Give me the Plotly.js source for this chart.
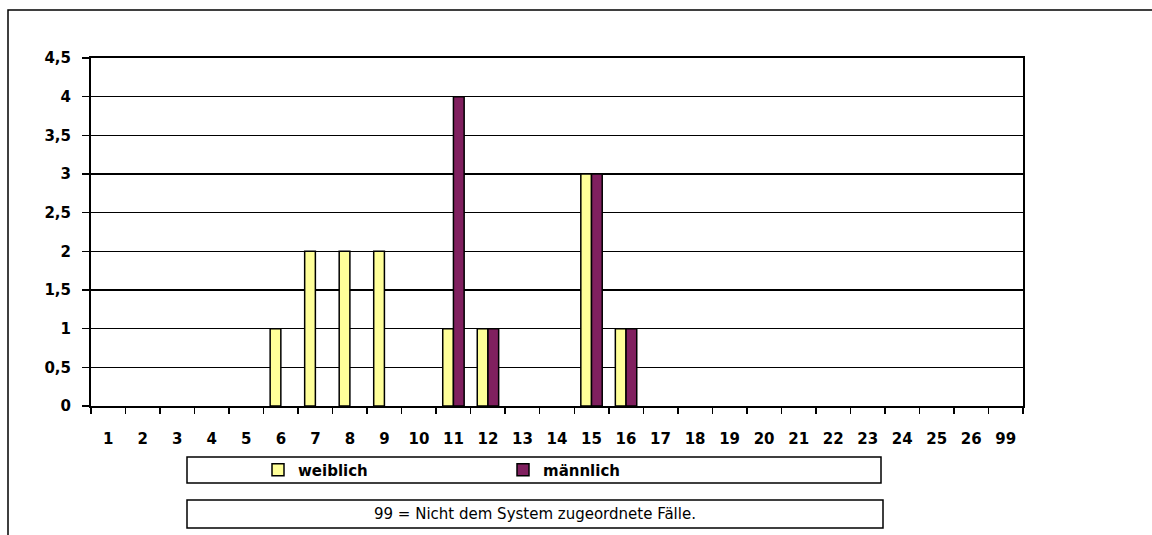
<!DOCTYPE html>
<html>
<head>
<meta charset="utf-8">
<script src="https://cdn.plot.ly/plotly-3.0.1.min.js"></script>
<style>html,body{margin:0;padding:0;background:#fff;}#chart{width:1152px;height:535px;}</style>
</head>
<body>
<div id="chart"></div>
<script>
const categories = ['1','2','3','4','5','6','7','8','9','10','11','12','13','14','15','16','17','18','19','20','21','22','23','24','25','26','99'];
const weiblich  = [0,0,0,0,0,1,2,2,2,0,1,1,0,0,3,1,0,0,0,0,0,0,0,0,0,0,0];
const maennlich = [0,0,0,0,0,0,0,0,0,0,4,1,0,0,3,1,0,0,0,0,0,0,0,0,0,0,0];
const seriesNames = ['weiblich','männlich'];
const noteText = '99 = Nicht dem System zugeordnete Fälle.';

const FONT = 'DejaVu Sans, Arial, sans-serif';
const W = 1152, H = 535;
const L = 91, R = 1023, T = 58, B = 406;
const px = x => (x - L) / (R - L);
const py = y => (B - y) / (B - T);
// zero-valued bars are not drawn (no outline line at the baseline)
const visibleBars = vals => vals.map(v => v === 0 ? null : v);

const traces = [
  {type:'bar', name:seriesNames[0], x:categories, y:visibleBars(weiblich),
   marker:{color:'#FFFF99', line:{color:'#000', width:1.5}}},
  {type:'bar', name:seriesNames[1], x:categories, y:visibleBars(maennlich),
   marker:{color:'#80205F', line:{color:'#000', width:1.5}}}
];

const layout = {
  width:W, height:H,
  margin:{l:L, r:W-R, t:T, b:H-B, pad:0},
  paper_bgcolor:'#fff', plot_bgcolor:'#fff',
  font:{family:FONT, color:'#000'},
  separators:',.',
  barmode:'group', bargap:0.38, bargroupgap:0,
  showlegend:true,
  legend:{orientation:'h', x:px(258), xanchor:'left', y:py(470), yanchor:'middle',
          bgcolor:'rgba(0,0,0,0)', borderwidth:0, entrywidth:200, entrywidthmode:'pixels',
          itemwidth:30,
          font:{family:FONT, size:15, color:'#000', weight:'bold'}},
  xaxis:{type:'category', tickson:'boundaries', ticks:'outside', ticklen:6, tickwidth:1.5, tickcolor:'#000',
         showline:true, linecolor:'#000', linewidth:2, mirror:true, showgrid:false, zeroline:false,
         ticklabelstandoff:18,
         tickfont:{family:FONT, size:15, color:'#000', weight:'bold'}},
  yaxis:{range:[0,4.5], dtick:0.5, tick0:0, ticks:'outside', ticklen:7, tickwidth:1.5, tickcolor:'#000',
         showline:true, linecolor:'#000', linewidth:2, mirror:true,
         showgrid:true, gridcolor:'#000', gridwidth:1.5, zeroline:false,
         ticklabelstandoff:8,
         tickfont:{family:FONT, size:15, color:'#000', weight:'bold'}},
  shapes:[
    {type:'rect', xref:'paper', yref:'paper', x0:px(8), x1:px(1170), y0:py(560), y1:py(10),
     line:{color:'#000', width:1.5}, fillcolor:'rgba(0,0,0,0)', layer:'below'},
    {type:'rect', xref:'paper', yref:'paper', x0:px(187), x1:px(881), y0:py(483), y1:py(457),
     line:{color:'#000', width:1.5}, fillcolor:'#fff', layer:'below'},
    {type:'rect', xref:'paper', yref:'paper', x0:px(187), x1:px(883), y0:py(528), y1:py(500),
     line:{color:'#000', width:1.5}, fillcolor:'#fff', layer:'below'}
  ],
  annotations:[
    {xref:'paper', yref:'paper', x:px(535), y:py(514), xanchor:'center', yanchor:'middle',
     text:noteText, showarrow:false, font:{family:FONT, size:15, color:'#000'}}
  ]
};

Plotly.newPlot('chart', traces, layout, {displayModeBar:false, staticPlot:true});
</script>
</body>
</html>
